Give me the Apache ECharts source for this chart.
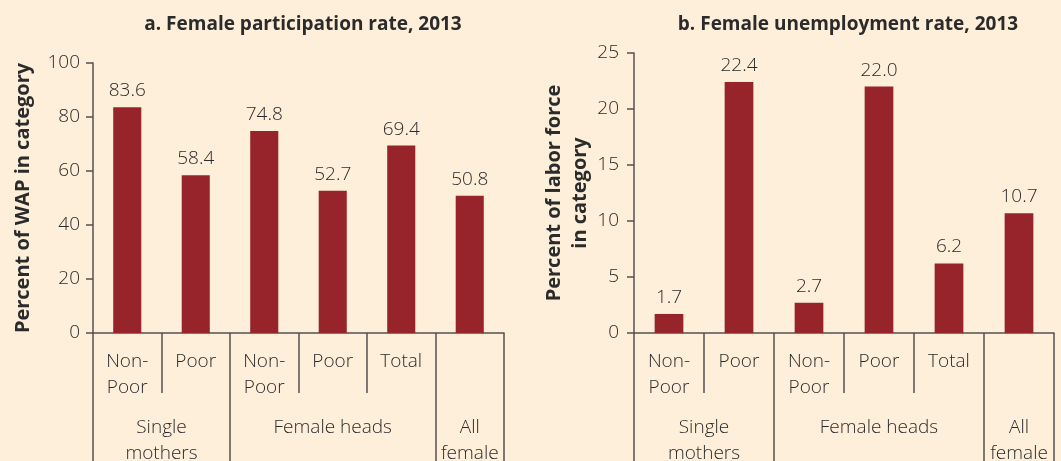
<!DOCTYPE html>
<html>
<head>
<meta charset="utf-8">
<script src="https://cdn.jsdelivr.net/npm/echarts@6/dist/echarts.min.js"></script>
<style>
html,body{margin:0;padding:0;background:#FDEFDA;}
#chart{width:1061px;height:461px;}
</style>
</head>
<body>
<div id="chart"></div>
<script>
const categories = ['Non-\nPoor', 'Poor', 'Non-\nPoor', 'Poor', 'Total', ''];
const groupLabels = ['Single\nmothers', 'Female heads', 'All\nfemale'];
const groupCenters = [1, 3.5, 5.5];
const groupBounds = [0, 2, 5, 6];
const participation = [83.6, 58.4, 74.8, 52.7, 69.4, 50.8];
const unemployment = [1.7, 22.4, 2.7, 22.0, 6.2, 10.7];
const titleA = 'a. Female participation rate, 2013';
const titleB = 'b. Female unemployment rate, 2013';
const yNameA = 'Percent of WAP in category';
const yNameB = 'Percent of labor force\nin category';

const FONT = 'Open Sans';
const TXT = '#2b2b2b';
const AX = '#555050';
const BAR = '#98242B';
const FS = 19;

const chart = echarts.init(document.getElementById('chart'), null, {renderer: 'canvas'});

function catAxis(grid) {
  return {
    type: 'category', gridIndex: grid, data: categories, position: 'bottom',
    axisLine: {show: true, lineStyle: {color: AX, width: 1.5}},
    axisTick: {show: true, alignWithLabel: false, interval: 0, length: 60, lineStyle: {color: AX, width: 1.5}},
    axisLabel: {interval: 0, margin: 16, color: TXT, fontFamily: FONT, fontWeight: 300, fontSize: FS, lineHeight: 26}
  };
}
function groupAxis(grid) {
  return {
    type: 'value', gridIndex: grid, min: 0, max: 6, position: 'bottom',
    axisLine: {show: false}, splitLine: {show: false},
    axisTick: {show: true, customValues: groupBounds, length: 140, lineStyle: {color: AX, width: 1.5}},
    axisLabel: {show: true, customValues: groupCenters, margin: 82,
      formatter: v => groupLabels[groupCenters.indexOf(v)] || '',
      color: TXT, fontFamily: FONT, fontWeight: 300, fontSize: FS, lineHeight: 26}
  };
}
function valAxis(grid, max, interval, name, gap, margin) {
  return {
    type: 'value', gridIndex: grid, min: 0, max: max, interval: interval,
    name: name, nameLocation: 'middle', nameRotate: 90, nameGap: gap,
    nameTextStyle: {color: TXT, fontFamily: FONT, fontWeight: 'bold', fontSize: 20, lineHeight: 26},
    axisLine: {show: true, lineStyle: {color: AX, width: 1.5}},
    axisTick: {show: true, length: 7, lineStyle: {color: AX, width: 1.5}},
    splitLine: {show: false},
    axisLabel: {margin: margin, color: TXT, fontFamily: FONT, fontWeight: 300, fontSize: FS}
  };
}
function barSeries(xi, yi, data) {
  return {
    type: 'bar', xAxisIndex: xi, yAxisIndex: yi, data: data, barWidth: '41%',
    itemStyle: {color: BAR},
    label: {show: true, position: 'top', distance: 7, color: TXT, fontFamily: FONT, fontWeight: 300, fontSize: FS,
      formatter: p => p.value.toFixed(1)},
    silent: true
  };
}

chart.setOption({
  backgroundColor: '#FDEFDA',
  animation: false,
  title: [
    {text: titleA, left: 298, top: 10, textAlign: 'center',
     textStyle: {color: TXT, fontFamily: FONT, fontWeight: 'bold', fontSize: 19}},
    {text: titleB, left: 843, top: 10, textAlign: 'center',
     textStyle: {color: TXT, fontFamily: FONT, fontWeight: 'bold', fontSize: 19}}
  ],
  grid: [
    {left: 93, right: 557, top: 63, bottom: 128, containLabel: false, outerBoundsMode: 'none'},
    {left: 634, right: 7, top: 53, bottom: 128, containLabel: false, outerBoundsMode: 'none'}
  ],
  xAxis: [catAxis(0), groupAxis(0), catAxis(1), groupAxis(1)],
  yAxis: [
    valAxis(0, 100, 20, yNameA, 57, 13),
    valAxis(1, 25, 5, yNameB, 38, 15)
  ],
  series: [
    barSeries(0, 0, participation),
    barSeries(2, 1, unemployment)
  ]
});
</script>
</body>
</html>
